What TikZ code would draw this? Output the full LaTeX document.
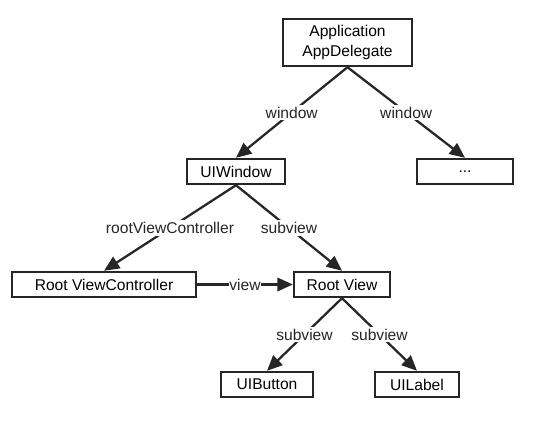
\documentclass[tikz,border=0pt]{standalone}
\usepackage{fontspec}
\setmainfont{Liberation Sans}
\usetikzlibrary{arrows.meta}
\usetikzlibrary{positioning}
\definecolor{ink}{HTML}{262626}
\tikzset {
  % boxes of the hierarchy
  obj/.style = {
    draw = ink,
    line width = 1.8pt,
    rectangle,
    inner sep = 0,
    minimum height = 18.75pt,
    font = \fontsize{11.7}{15}\selectfont
  },
  % path style with a filled arrow
  arr/.style = {
    draw = ink,
    line width = 1.7pt,
    -{Triangle[length=11.5pt,width=10pt]}
  },
  % relation label
  rel/.style = {
    fill = white,
    inner sep = 1.5pt,
    text = ink,
    font = \fontsize{11.7}{14}\selectfont
  }
}
\begin{document}
\begin{tikzpicture}[x=0.75pt,y=-0.75pt]
    \useasboundingbox (0,0) rectangle (539,422);
    \node[obj, minimum width=96.75pt, minimum height=35.25pt, align=center] (app) at (347.5,42.5) {Application\\AppDelegate};
    \node[obj, minimum width=73.5pt] (window) at (236,171.5) {UIWindow};
    \node[obj, minimum width=72pt] (more) at (465,171.5) {...};
    \node[obj, minimum width=138pt] (rootvc) at (104,284.5) {Root ViewController};
    \node[obj, minimum width=72pt] (rootview) at (342,284.5) {Root View};
    \node[obj, minimum width=69pt] (button) at (267,384.5) {UIButton};
    \node[obj, minimum width=63pt] (label) at (417,384.5) {UILabel};

    \draw[arr] (app.south) -- node[rel] {window} (window.north);
    \draw[arr] (app.south) -- node[rel] {window} (more.north);
    \draw[arr] (window.south) -- node[rel] {rootViewController} (rootvc.north);
    \draw[arr] (window.south) -- node[rel] {subview} (rootview.north);
    \draw[arr] (rootvc) -- node[rel, inner xsep=0.5pt] {view} (rootview);
    \draw[arr] (rootview.south) -- node[rel] {subview} (button.north);
    \draw[arr] (rootview.south) -- node[rel] {subview} (label.north);
  \end{tikzpicture}
\end{document}
